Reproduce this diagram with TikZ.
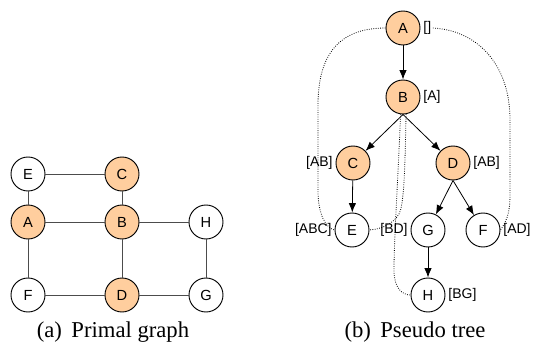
\documentclass[tikz,border=0pt]{standalone}
\usepackage{fontspec}
\setmainfont{Liberation Serif}
\setsansfont{Liberation Sans}
\usepackage{xcolor}
\usepackage{tikz}
\usetikzlibrary{arrows.meta,positioning}
\definecolor{ctxfill}{RGB}{255,206,158}

\begin{document}
\begin{tikzpicture}[x=0.75pt,y=-0.75pt,
    var/.style={circle,draw,line width=0.7pt,minimum size=25.5pt,inner sep=0pt,
        font=\sffamily\fontsize{11}{12}\selectfont},
    ctx/.style={var,fill=ctxfill},
    sepset/.style={inner sep=1pt,font=\sffamily\fontsize{10.5}{12}\selectfont},
    subcap/.style={anchor=base,font=\fontsize{17}{20}\selectfont},
    treeedge/.style={-{Latex[length=7pt,width=5.5pt]},line width=0.6pt},
    backedge/.style={line width=0.6pt,dash pattern=on 0.6pt off 1.1pt}]
\useasboundingbox (0,0) rectangle (533,345);

% Primal graph
\node[var] (pE) at (28,174) {E};
\node[ctx] (pC) at (122,174) {C};
\node[ctx] (pA) at (28,222) {A};
\node[ctx] (pB) at (122,222) {B};
\node[var] (pH) at (206,222) {H};
\node[var] (pF) at (28,295) {F};
\node[ctx] (pD) at (122,295) {D};
\node[var] (pG) at (206,295) {G};
\foreach \u/\v in {pE/pC,pE/pA,pC/pB,pA/pB,pB/pH,pA/pF,pB/pD,pF/pD,pD/pG,pH/pG} {
    \draw[black!70,line width=0.7pt] (\u) -- (\v);
}
\node[subcap] (capa) at (113,338) {(a)\, Primal graph};

% Pseudo tree
\node[ctx] (A) at (403,28) {A};
\node[ctx] (B) at (403,97) {B};
\node[ctx] (C) at (353,163) {C};
\node[ctx] (D) at (453,163) {D};
\node[var] (E) at (352,230) {E};
\node[var] (G) at (428,230) {G};
\node[var] (F) at (483,230) {F};
\node[var] (H) at (428,295) {H};

\node[sepset,right=1pt of A] (sA) {[]};
\node[sepset,right=1pt of B] (sB) {[A]};
\node[sepset,left=1pt of C] (sC) {[AB]};
\node[sepset,right=1pt of D] (sD) {[AB]};
\node[sepset,left=1pt of E] (sE) {[ABC]};
\node[sepset,left=1pt of G] (sG) {[BD]};
\node[sepset,right=1pt of F] (sF) {[AD]};
\node[sepset,right=1pt of H] (sH) {[BG]};

\draw[treeedge] (A) -- (B);
\foreach \v in {C,D} {
    \draw[treeedge] (B.south) -- (\v);
}
\draw[treeedge] (C) -- (E);
\foreach \v in {G,F} {
    \draw[treeedge] (D.south) -- (\v);
}
\draw[treeedge] (G) -- (H);

% back edges
\draw[backedge] (A.west) .. controls (345,28) and (318,48) .. (318,105)
    -- (318,190) .. controls (318,215) and (326,228) .. (E.west);
\draw[backedge] (sA.east) .. controls (475,30) and (510,62) .. (510,120)
    -- (510,195) .. controls (510,214) and (506,222) .. (F.east);
\draw[backedge] (B.280) .. controls (405,170) and (404,205) .. (399,214)
    .. controls (393,224) and (382,229) .. (E.east);
\draw[backedge] (B.262) .. controls (398,180) and (394,240) .. (394,270)
    .. controls (394,288) and (402,295) .. (H.west);
\node[subcap] (capb) at (415,338) {(b)\, Pseudo tree};
\end{tikzpicture}
\end{document}
